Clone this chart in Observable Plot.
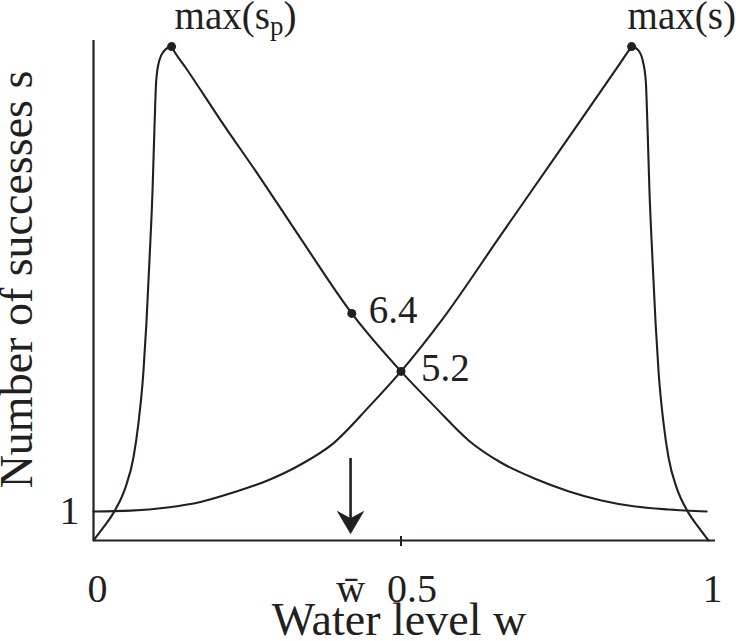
<!DOCTYPE html>
<html>
<head>
<meta charset="utf-8">
<script src="https://cdn.jsdelivr.net/npm/d3@7"></script>
<script src="https://cdn.jsdelivr.net/npm/@observablehq/plot@0.6"></script>
<style>
  body { margin: 0; background: #fff; }
  #chart svg { display: block; }
</style>
</head>
<body>
<div id="chart"></div>
<script>
// ---- data (water level w, number of successes s; schematic) ----
const spW = [0, 0.016, 0.033, 0.052, 0.065, 0.073, 0.081, 0.086, 0.091, 0.096, 0.099, 0.102, 0.107, 0.114, 0.127,
             0.131, 0.150, 0.207, 0.272, 0.337, 0.420, 0.5, 0.556, 0.610, 0.663, 0.719, 0.772, 0.826, 0.881, 0.935, 0.997];
const spS = [0, 0.45, 0.97, 1.83, 2.86, 4.03, 5.76, 7.48, 9.66, 12.07, 14.14, 15.86, 16.55, 16.86, 17.03,
             16.88, 16.30, 14.48, 12.48, 10.41, 7.83, 5.83, 4.59, 3.45, 2.68, 2.12, 1.70, 1.38, 1.17, 1.07, 1.0];

const sW = [0, 0.060, 0.120, 0.174, 0.228, 0.281, 0.337, 0.390, 0.447, 0.5, 0.566, 0.662, 0.759, 0.850, 0.870, 0.875,
            0.886, 0.893, 0.898, 0.901, 0.904, 0.909, 0.914, 0.919, 0.927, 0.935, 0.948, 0.967, 0.984, 1.0];
const sS = [1.0, 1.03, 1.14, 1.33, 1.66, 2.05, 2.62, 3.35, 4.59, 5.83, 7.59, 10.52, 13.48, 16.26, 16.88, 17.03,
            16.9, 16.55, 15.86, 14.14, 12.07, 9.66, 7.48, 5.76, 4.03, 2.86, 1.83, 0.97, 0.45, 0];

const markW = [0.127, 0.875, 0.420, 0.5];
const markS = [17.03, 17.03, 7.83, 5.83];
const markLabels = ["max(s_p)", "max(s)", "6.4", "5.2"];

const xTicks = [0, 0.5, 1];
const yTicks = [1];
const wbar = 0.418;
const wbarLabel = "w\u0304";
const arrowFrom = 2.83, arrowTip = 0.24, arrowNotch = 0.70;

const xTitle = "Water level w";
const yTitle = "Number of successes s";

// ---- build tables ----
const sp = spW.map((w, i) => ({w, s: spS[i]}));
const s = sW.map((w, i) => ({w, s: sS[i]}));
const marks = markW.map((w, i) => ({w, s: markS[i], label: markLabels[i]}));

const ink = "#231f20";
const serif = "Liberation Serif, Times New Roman, serif";

const arrowHead = {
  draw(ctx) {
    ctx.moveTo(0, 0);
    ctx.lineTo(13, -22);
    ctx.lineTo(0, -15);
    ctx.lineTo(-13, -22);
    ctx.closePath();
  }
};

const plot = Plot.plot({
  width: 736,
  height: 641,
  marginLeft: 93,
  marginRight: 21,
  marginTop: 40,
  marginBottom: 101,
  style: {background: "#fff", color: ink, fontFamily: serif},
  x: {domain: [0, 1.0114]},
  y: {domain: [0, 17.24]},
  marks: [
    // axis lines
    Plot.ruleY([0], {stroke: ink, strokeWidth: 2.2}),
    Plot.ruleX([0], {stroke: ink, strokeWidth: 2.2}),
    // tick at 0.5 crossing the axis
    Plot.axisX({ticks: [0.5], tickSize: 10, tickFormat: () => "", dy: -4, stroke: ink, strokeWidth: 2, label: null}),
    // tick labels
    Plot.axisX({ticks: xTicks.filter(d => d !== 0.5), tickSize: 0, tickPadding: 33, dx: 4, fontSize: 40, label: null, tickFormat: d => String(d)}),
    Plot.axisX({ticks: [0.5], tickSize: 0, tickPadding: 33, dx: 11, fontSize: 40, label: null, tickFormat: d => String(d)}),
    Plot.axisX({ticks: [wbar], tickSize: 0, tickPadding: 33, dx: 0, fontSize: 40, label: null, tickFormat: () => wbarLabel}),
    Plot.axisY({ticks: yTicks, tickSize: 0, tickPadding: 14, fontSize: 40, label: null, tickFormat: d => String(d)}),
    // curves
    Plot.line(sp, {x: "w", y: "s", curve: "monotone-x", stroke: ink, strokeWidth: 2.1}),
    Plot.line(s, {x: "w", y: "s", curve: "monotone-x", stroke: ink, strokeWidth: 2.1}),
    // arrow at w-bar
    Plot.ruleX([wbar], {y1: arrowFrom, y2: arrowNotch, stroke: ink, strokeWidth: 2.6}),
    Plot.dot([wbar], {x: d => d, y: arrowTip, symbol: arrowHead, fill: ink, stroke: ink, strokeWidth: 0.8}),
    // marked points
    Plot.dot(marks, {x: "w", y: "s", r: 4.5, fill: ink}),
    Plot.text(marks.filter(d => d.label === "max(s_p)"), {x: "w", y: "s", text: "label", textAnchor: "start", dx: 3, dy: -30, fontSize: 39, fill: ink}),
    Plot.text(marks.filter(d => d.label === "max(s)"), {x: "w", y: "s", text: "label", textAnchor: "start", dx: -4, dy: -30, fontSize: 39, fill: ink}),
    Plot.text(marks.filter(d => d.label === "6.4"), {x: "w", y: "s", text: "label", textAnchor: "start", dx: 17, dy: -3, fontSize: 39, fill: ink}),
    Plot.text(marks.filter(d => d.label === "5.2"), {x: "w", y: "s", text: "label", textAnchor: "start", dx: 20, dy: -3, fontSize: 39, fill: ink}),
    // titles
    Plot.text([yTitle], {frameAnchor: "left", rotate: -90, textAnchor: "middle", lineAnchor: "middle", dx: -76, dy: -11, fontSize: 46, fill: ink}),
    Plot.text([xTitle], {frameAnchor: "bottom", textAnchor: "middle", lineAnchor: "middle", dx: -5.5, dy: 80, fontSize: 46, fill: ink})
  ]
});

// subscript for max(s_p)
plot.querySelectorAll("text").forEach(t => {
  if (t.textContent === "max(s_p)") {
    t.textContent = "";
    const ns = "http://www.w3.org/2000/svg";
    const a = document.createElementNS(ns, "tspan"); a.textContent = "max(s";
    const b = document.createElementNS(ns, "tspan"); b.textContent = "p";
    b.setAttribute("dy", "6"); b.setAttribute("font-size", "27");
    const c = document.createElementNS(ns, "tspan"); c.textContent = ")";
    c.setAttribute("dy", "-6");
    t.append(a, b, c);
  }
});

document.getElementById("chart").append(plot);
</script>
</body>
</html>
